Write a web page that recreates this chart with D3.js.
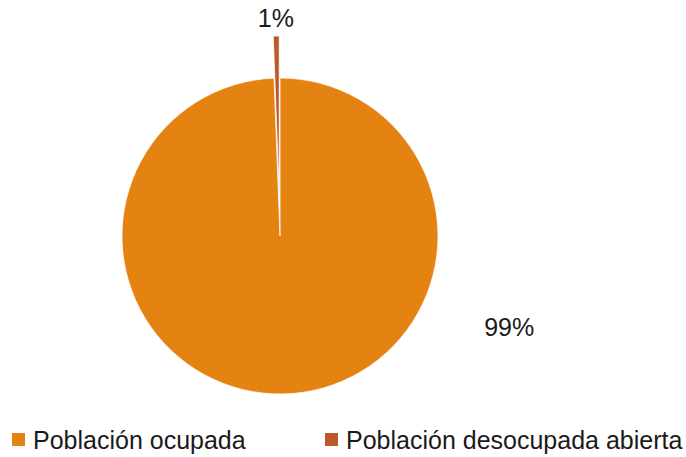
<!DOCTYPE html>
<html>
<head>
<meta charset="utf-8">
<script src="https://cdn.jsdelivr.net/npm/d3@7"></script>
<style>
  html, body { margin: 0; padding: 0; background: #ffffff; }
  svg { display: block; }
  text { font-family: "Liberation Sans", Arial, sans-serif; fill: #1a1a1a; }
</style>
</head>
<body>
<svg id="chart" width="686" height="457"></svg>
<script>
// Distribución de la población económicamente activa (%)
const categories = ["Población ocupada", "Población desocupada abierta"];
const values = [99.4, 0.6];
const colors = ["#E48312", "#BD582C"];

const width = 686, height = 457;
const cx = 280, cy = 236, radius = 158;
const explode = [0, 42];            // radial pull-out per slice, px

const svg = d3.select("#chart");
const g = svg.append("g").attr("transform", `translate(${cx},${cy})`);

const total = d3.sum(values);
const pct = d3.format(".0%");
const color = d3.scaleOrdinal().domain(categories).range(colors);

const pie = d3.pie().sort(null).value(d => d.value);
const arcs = pie(categories.map((c, i) => ({ category: c, value: values[i], i })));
const arc = d3.arc().innerRadius(0).outerRadius(radius);

const mid = a => (a.startAngle + a.endAngle) / 2;
const shift = (a, dist) => [Math.sin(mid(a)) * dist, -Math.cos(mid(a)) * dist];

// Small slice underneath, large slice drawn over it
const drawOrder = arcs.slice().sort((a, b) => b.data.i - a.data.i);
g.selectAll("path.slice")
  .data(drawOrder)
  .join("path")
  .attr("class", "slice")
  .attr("d", arc)
  .attr("transform", d => `translate(${shift(d, explode[d.data.i])})`)
  .attr("fill", d => color(d.data.category))
  .attr("stroke", "#ffffff")
  .attr("stroke-width", 0.75);

// Data labels: angle (deg, clockwise from top) and distance from centre
const labelPos = [
  { angle: 111.6, dist: radius * 1.56 },
  { angle: null, dist: radius + explode[1] + 18 }
];
g.selectAll("text.value")
  .data(arcs)
  .join("text")
  .attr("class", "value")
  .attr("text-anchor", "middle")
  .attr("dominant-baseline", "central")
  .attr("font-size", 25)
  .attr("transform", d => {
    const p = labelPos[d.data.i];
    const ang = p.angle == null ? mid(d) : p.angle * Math.PI / 180;
    return `translate(${Math.sin(ang) * p.dist},${-Math.cos(ang) * p.dist})`;
  })
  .text(d => pct(d.data.value / total));

// Legend
const legendX = d3.scaleOrdinal().domain(categories).range([12, 325]);
const legend = svg.append("g").attr("transform", "translate(0,440)");
const item = legend.selectAll("g.item")
  .data(categories)
  .join("g")
  .attr("class", "item")
  .attr("transform", d => `translate(${legendX(d)},0)`);
item.append("rect")
  .attr("x", 0).attr("y", -7)
  .attr("width", 13).attr("height", 13)
  .attr("fill", d => color(d));
item.append("text")
  .attr("x", 21)
  .attr("dominant-baseline", "central")
  .attr("font-size", 25)
  .text(d => d);
</script>
</body>
</html>
